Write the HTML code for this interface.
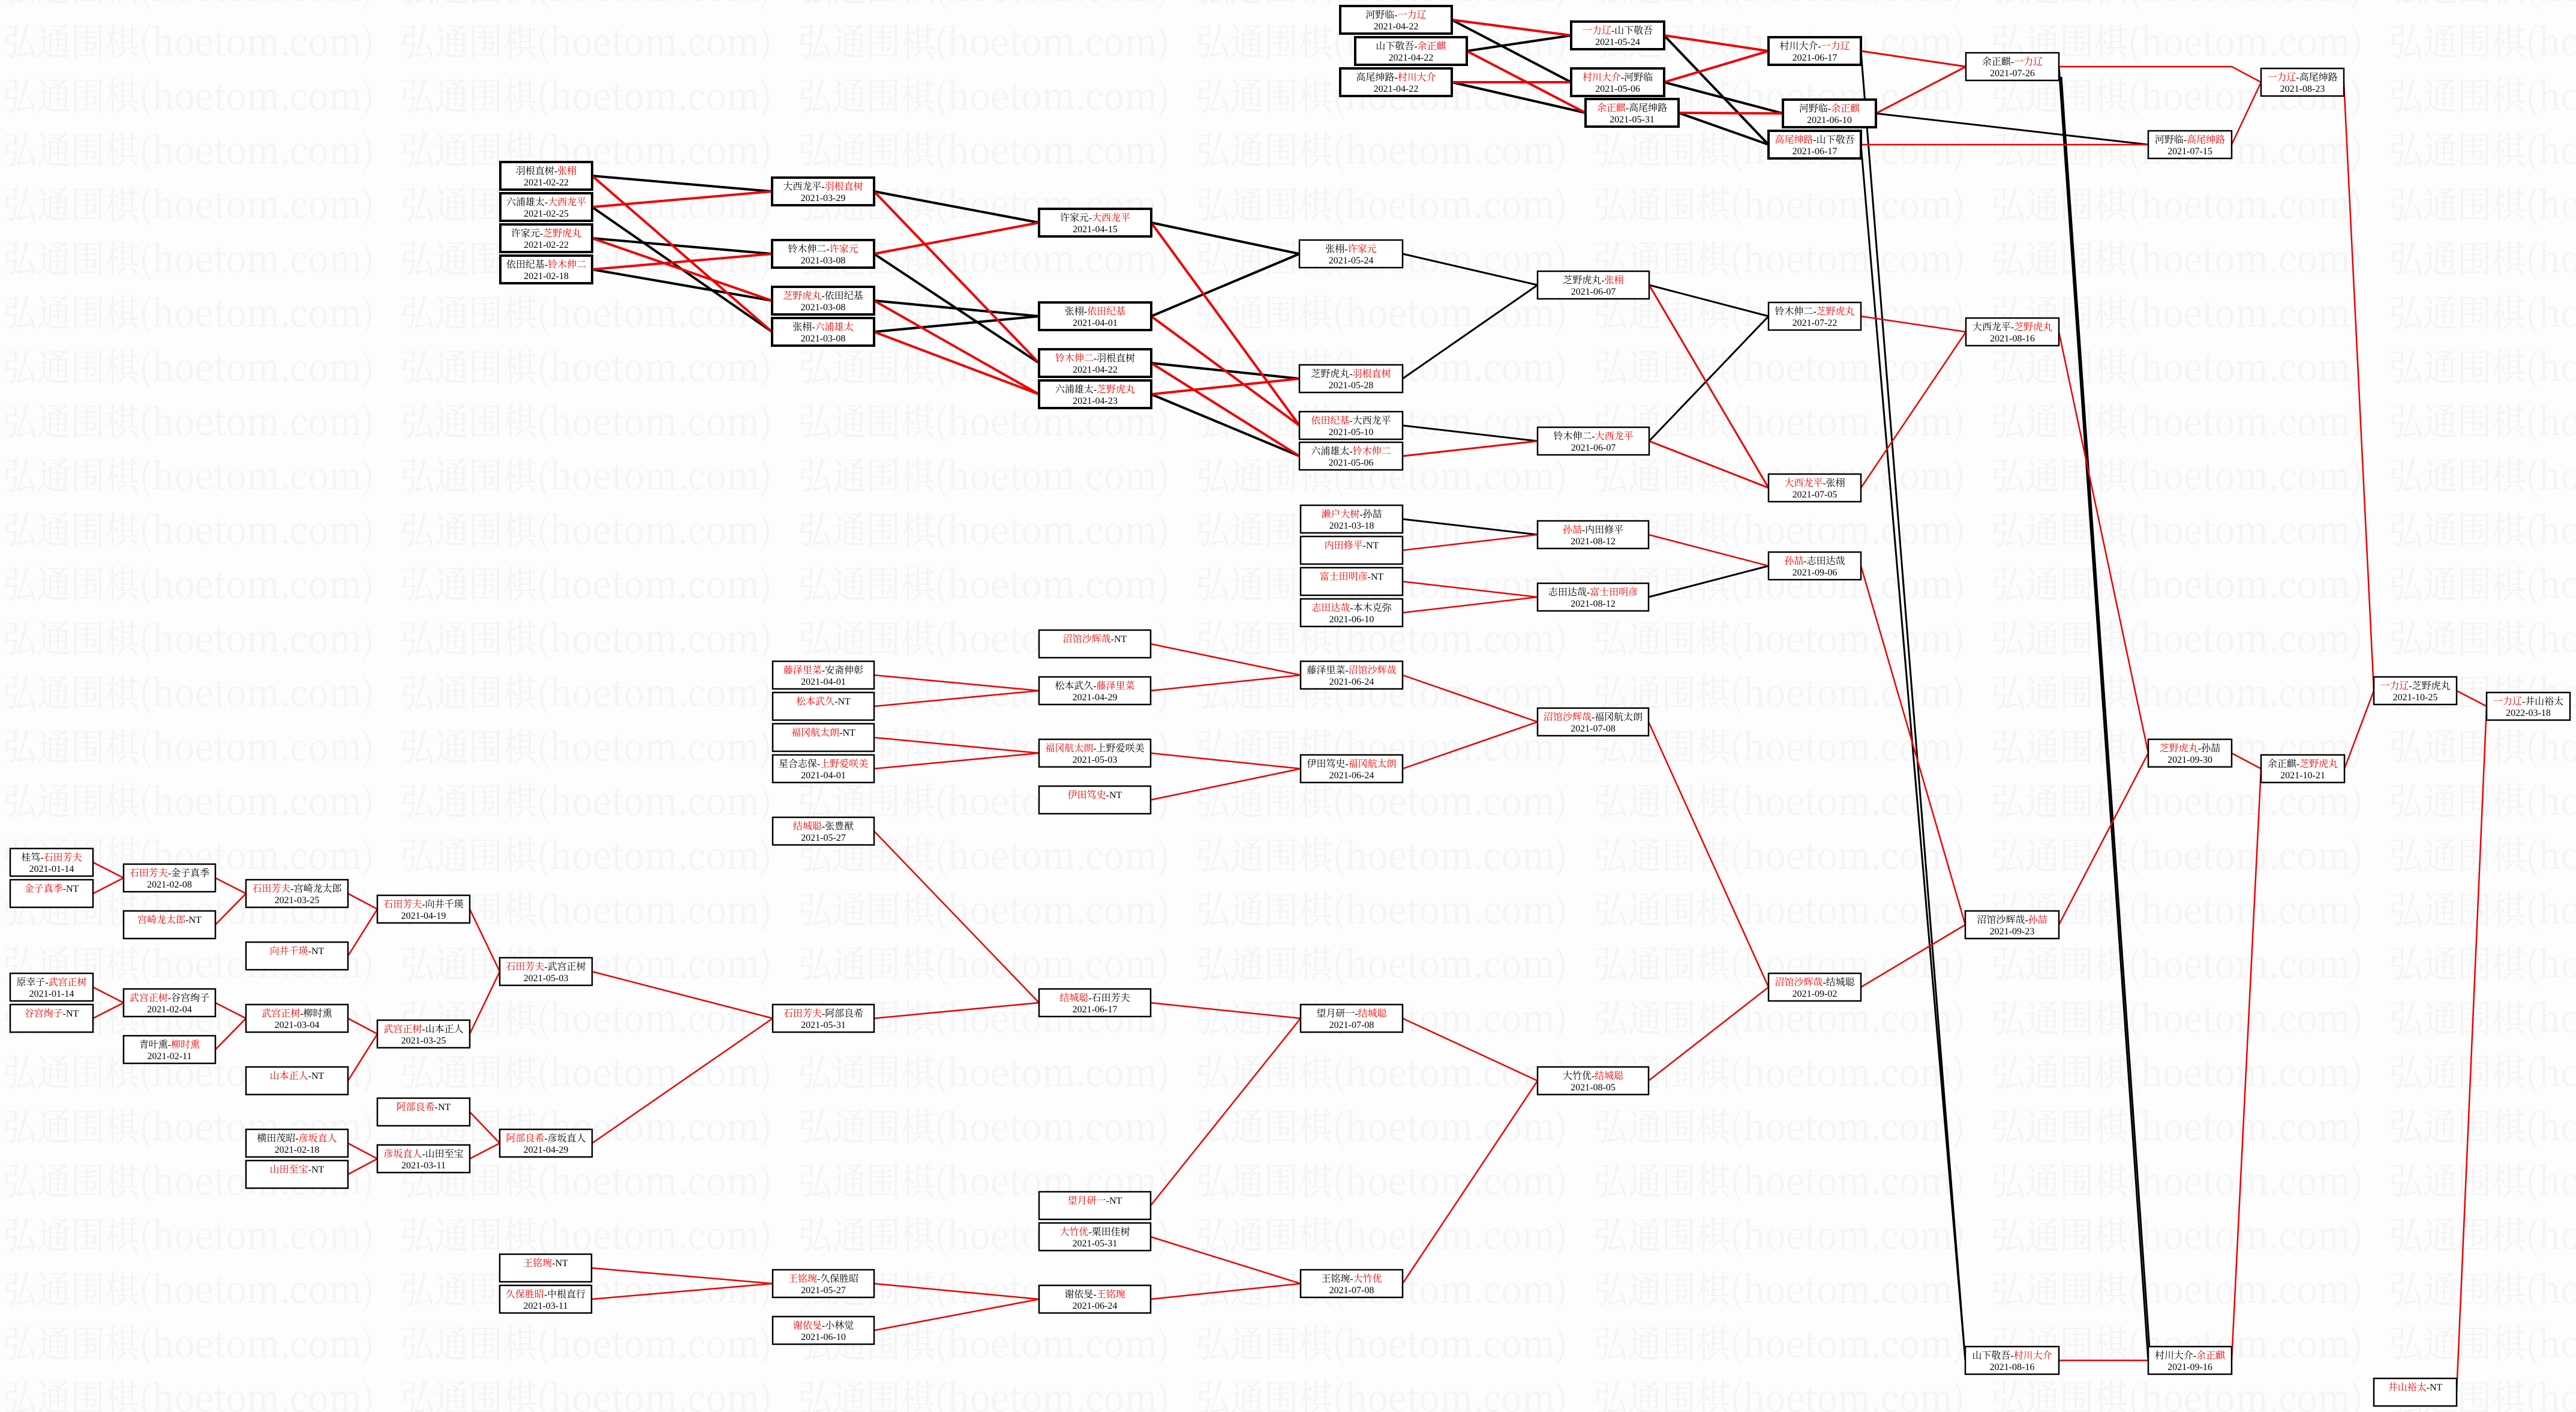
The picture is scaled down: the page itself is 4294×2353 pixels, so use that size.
<!DOCTYPE html>
<html><head><meta charset="utf-8">
<style>
html,body{margin:0;padding:0;background:#fff}
svg{display:block}
.t{font-family:"Liberation Serif","Noto Serif CJK SC",serif;font-size:16px;text-anchor:middle;fill:#000}
.r{fill:#e00}
rect.k{fill:#fff;stroke:#000;stroke-width:4}
rect.n{fill:#fff;stroke:#000;stroke-width:2.5}
.wm{font-family:"Noto Serif CJK SC",serif;font-size:62px;fill:#f4f4f4}
</style></head><body>
<svg xmlns="http://www.w3.org/2000/svg" width="4294" height="2353" viewBox="0 0 4294 2353">
<defs>
<pattern id="wm" patternUnits="userSpaceOnUse" x="0" y="20" width="663" height="90.4">
<text class="wm" x="4" y="72" textLength="620" lengthAdjust="spacingAndGlyphs">弘通围棋(hoetom.com)</text>
</pattern>
</defs>
<rect x="0" y="0" width="4294" height="2353" fill="#fdfdfd"/>
<rect x="0" y="0" width="4294" height="2353" fill="url(#wm)"/>

<g stroke-width="4" fill="none">
<path stroke="#000" d="M987,293L1287,319M987,345L1287,553M987,397L1287,423M987,449L1287,501M1457,319L1732,371M1457,423L1732,605M1457,501L1732,527M1457,553L1732,527M1919,371L2166,423M1919,527L2166,423M1919,605L2166,631M1919,657L2166,760"/>
<path stroke="#e00" d="M987,293L1287,553M987,345L1287,319M987,397L1287,501M987,449L1287,423M1457,319L1732,605M1457,423L1732,371M1457,501L1732,657M1457,553L1732,657M1919,371L2166,709M1919,527L2166,709M1919,605L2166,760M1919,657L2166,631"/>
<path stroke="#000" d="M2420,33L2619,137M2445,85L2619,59M2420,137L2643,188M2774,59L2948,241M2774,137L2972,189M2798,188L2948,241"/>
<path stroke="#e00" d="M2420,33L2619,59M2445,85L2643,188M2420,137L2619,137M2774,59L2948,85M2774,137L2948,85M2798,188L2972,189"/>
</g>
<g stroke-width="3" fill="none">
<path stroke="#000" d="M2338,423L2563,475M2338,631L2563,475M2338,709L2563,735M2749,475L2948,527M2749,735L2948,527M3102,85L3276,2267M3102,241L3276,2267M3127,189L3581,241M3432,111L3581,2267M3436,128L3584,2262M2748,995L2948,943M2338,865L2563,891"/>
<path stroke="#e00" d="M2338,760L2563,735M2749,475L2948,813M2749,735L2948,813M3102,85L3277,111M3127,189L3277,111"/>
</g>
<g stroke-width="2.5" fill="none" stroke="#e00">
<path d="M3102,527L3277,553M3102,813L3277,553M3102,241L3581,241M3432,111L3720,111L3769,137M3720,241L3769,137M3907,137L3957,1151M3432,553L3581,1255M3102,943L3276,1541M3102,1645L3276,1541M3432,1541L3581,1255M3720,1255L3769,1281M3432,2267L3581,2267M3720,2267L3769,1281M3908,1281L3957,1151M4095,1151L4145,1177M4095,2320L4145,1177"/>
<path d="M2338,917L2563,891M2338,969L2563,995M2338,1021L2563,995M2748,891L2948,943M1918,1073L2168,1125M1457,1125L1732,1151M1457,1177L1732,1151M1918,1151L2168,1125M1457,1229L1732,1255M1457,1281L1732,1255M1918,1255L2168,1281M1918,1333L2168,1281M2338,1125L2563,1203M2338,1281L2563,1203M2748,1203L2948,1645M1457,1385L1732,1671M1457,1697L1732,1671M1918,1671L2168,1697M1918,2009L2168,1697M2338,1697L2563,1801M1918,2061L2168,2139M1918,2165L2168,2139M2338,2139L2563,1801M2748,1801L2948,1645M986,2113L1288,2139M986,2165L1288,2139M1457,2139L1732,2165M1457,2217L1732,2165"/>
<path d="M155,1437L206,1463M155,1489L206,1463M359,1463L410,1489M359,1541L410,1489M580,1489L629,1515M580,1593L629,1515M783,1515L833,1619M155,1645L206,1671M155,1697L206,1671M359,1671L410,1697M359,1749L410,1697M580,1697L629,1723M580,1801L629,1723M783,1723L833,1619M987,1619L1288,1697M783,1853L833,1905M580,1905L629,1931M580,1957L629,1931M783,1931L833,1905M987,1905L1288,1697"/>
</g>

<g>
<rect class="k" x="834" y="270" width="153" height="46"/><text class="t" x="910.5" y="290">羽根直树-<tspan class="r">张栩</tspan></text><text class="t" x="910.5" y="309">2021-02-22</text>
<rect class="k" x="834" y="322" width="153" height="46"/><text class="t" x="910.5" y="342">六浦雄太-<tspan class="r">大西龙平</tspan></text><text class="t" x="910.5" y="361">2021-02-25</text>
<rect class="k" x="834" y="374" width="153" height="46"/><text class="t" x="910.5" y="394">许家元-<tspan class="r">芝野虎丸</tspan></text><text class="t" x="910.5" y="413">2021-02-22</text>
<rect class="k" x="834" y="426" width="153" height="46"/><text class="t" x="910.5" y="446">依田纪基-<tspan class="r">铃木伸二</tspan></text><text class="t" x="910.5" y="465">2021-02-18</text>
<rect class="k" x="1287" y="296" width="170" height="46"/><text class="t" x="1372" y="316">大西龙平-<tspan class="r">羽根直树</tspan></text><text class="t" x="1372" y="335">2021-03-29</text>
<rect class="k" x="1287" y="400" width="170" height="46"/><text class="t" x="1372" y="420">铃木伸二-<tspan class="r">许家元</tspan></text><text class="t" x="1372" y="439">2021-03-08</text>
<rect class="k" x="1287" y="478" width="170" height="46"/><text class="t" x="1372" y="498"><tspan class="r">芝野虎丸</tspan>-依田纪基</text><text class="t" x="1372" y="517">2021-03-08</text>
<rect class="k" x="1287" y="530" width="170" height="46"/><text class="t" x="1372" y="550">张栩-<tspan class="r">六浦雄太</tspan></text><text class="t" x="1372" y="569">2021-03-08</text>
<rect class="k" x="1732" y="348" width="187" height="46"/><text class="t" x="1825.5" y="368">许家元-<tspan class="r">大西龙平</tspan></text><text class="t" x="1825.5" y="387">2021-04-15</text>
<rect class="k" x="1732" y="504" width="187" height="46"/><text class="t" x="1825.5" y="524">张栩-<tspan class="r">依田纪基</tspan></text><text class="t" x="1825.5" y="543">2021-04-01</text>
<rect class="k" x="1732" y="582" width="187" height="46"/><text class="t" x="1825.5" y="602"><tspan class="r">铃木伸二</tspan>-羽根直树</text><text class="t" x="1825.5" y="621">2021-04-22</text>
<rect class="k" x="1732" y="634" width="187" height="46"/><text class="t" x="1825.5" y="654">六浦雄太-<tspan class="r">芝野虎丸</tspan></text><text class="t" x="1825.5" y="673">2021-04-23</text>
<rect class="k" x="2234" y="10" width="186" height="46"/><text class="t" x="2327" y="30">河野临-<tspan class="r">一力辽</tspan></text><text class="t" x="2327" y="49">2021-04-22</text>
<rect class="k" x="2259" y="62" width="186" height="46"/><text class="t" x="2352" y="82">山下敬吾-<tspan class="r">余正麒</tspan></text><text class="t" x="2352" y="101">2021-04-22</text>
<rect class="k" x="2234" y="114" width="186" height="46"/><text class="t" x="2327" y="134">高尾绅路-<tspan class="r">村川大介</tspan></text><text class="t" x="2327" y="153">2021-04-22</text>
<rect class="k" x="2619" y="36" width="155" height="46"/><text class="t" x="2696.5" y="56"><tspan class="r">一力辽</tspan>-山下敬吾</text><text class="t" x="2696.5" y="75">2021-05-24</text>
<rect class="k" x="2619" y="114" width="155" height="46"/><text class="t" x="2696.5" y="134"><tspan class="r">村川大介</tspan>-河野临</text><text class="t" x="2696.5" y="153">2021-05-06</text>
<rect class="k" x="2643" y="165" width="155" height="46"/><text class="t" x="2720.5" y="185"><tspan class="r">余正麒</tspan>-高尾绅路</text><text class="t" x="2720.5" y="204">2021-05-31</text>
</g>

<g>
<rect class="n" x="2166" y="400" width="172" height="46"/><text class="t" x="2252" y="420">张栩-<tspan class="r">许家元</tspan></text><text class="t" x="2252" y="439">2021-05-24</text>
<rect class="n" x="2166" y="608" width="172" height="46"/><text class="t" x="2252" y="628">芝野虎丸-<tspan class="r">羽根直树</tspan></text><text class="t" x="2252" y="647">2021-05-28</text>
<rect class="n" x="2166" y="686" width="172" height="46"/><text class="t" x="2252" y="706"><tspan class="r">依田纪基</tspan>-大西龙平</text><text class="t" x="2252" y="725">2021-05-10</text>
<rect class="n" x="2166" y="737" width="172" height="46"/><text class="t" x="2252" y="757">六浦雄太-<tspan class="r">铃木伸二</tspan></text><text class="t" x="2252" y="776">2021-05-06</text>
<rect class="n" x="2563" y="452" width="186" height="46"/><text class="t" x="2656" y="472">芝野虎丸-<tspan class="r">张栩</tspan></text><text class="t" x="2656" y="491">2021-06-07</text>
<rect class="n" x="2563" y="712" width="186" height="46"/><text class="t" x="2656" y="732">铃木伸二-<tspan class="r">大西龙平</tspan></text><text class="t" x="2656" y="751">2021-06-07</text>
<rect class="n" x="2948" y="504" width="154" height="46"/><text class="t" x="3025" y="524">铃木伸二-<tspan class="r">芝野虎丸</tspan></text><text class="t" x="3025" y="543">2021-07-22</text>
<rect class="n" x="2948" y="790" width="154" height="46"/><text class="t" x="3025" y="810"><tspan class="r">大西龙平</tspan>-张栩</text><text class="t" x="3025" y="829">2021-07-05</text>
<rect class="k" x="2948" y="62" width="154" height="46"/><text class="t" x="3025" y="82">村川大介-<tspan class="r">一力辽</tspan></text><text class="t" x="3025" y="101">2021-06-17</text>
<rect class="k" x="2972" y="166" width="155" height="46"/><text class="t" x="3049.5" y="186">河野临-<tspan class="r">余正麒</tspan></text><text class="t" x="3049.5" y="205">2021-06-10</text>
<rect class="k" x="2948" y="218" width="154" height="46"/><text class="t" x="3025" y="238"><tspan class="r">高尾绅路</tspan>-山下敬吾</text><text class="t" x="3025" y="257">2021-06-17</text>
<rect class="n" x="3277" y="88" width="155" height="46"/><text class="t" x="3354.5" y="108">余正麒-<tspan class="r">一力辽</tspan></text><text class="t" x="3354.5" y="127">2021-07-26</text>
<rect class="n" x="3769" y="114" width="138" height="46"/><text class="t" x="3838" y="134"><tspan class="r">一力辽</tspan>-高尾绅路</text><text class="t" x="3838" y="153">2021-08-23</text>
<rect class="n" x="3581" y="218" width="139" height="46"/><text class="t" x="3650.5" y="238">河野临-<tspan class="r">高尾绅路</tspan></text><text class="t" x="3650.5" y="257">2021-07-15</text>
<rect class="n" x="3277" y="530" width="155" height="46"/><text class="t" x="3354.5" y="550">大西龙平-<tspan class="r">芝野虎丸</tspan></text><text class="t" x="3354.5" y="569">2021-08-16</text>
<rect class="n" x="3581" y="1232" width="139" height="46"/><text class="t" x="3650.5" y="1252"><tspan class="r">芝野虎丸</tspan>-孙喆</text><text class="t" x="3650.5" y="1271">2021-09-30</text>
<rect class="n" x="3769" y="1258" width="139" height="46"/><text class="t" x="3838.5" y="1278">余正麒-<tspan class="r">芝野虎丸</tspan></text><text class="t" x="3838.5" y="1297">2021-10-21</text>
<rect class="n" x="3957" y="1128" width="138" height="46"/><text class="t" x="4026" y="1148"><tspan class="r">一力辽</tspan>-芝野虎丸</text><text class="t" x="4026" y="1167">2021-10-25</text>
<rect class="n" x="4145" y="1154" width="139" height="46"/><text class="t" x="4214.5" y="1174"><tspan class="r">一力辽</tspan>-井山裕太</text><text class="t" x="4214.5" y="1193">2022-03-18</text>
<rect class="n" x="3957" y="2297" width="138" height="46"/><text class="t" x="4026" y="2317"><tspan class="r">井山裕太</tspan>-NT</text>
<rect class="n" x="3276" y="1518" width="156" height="46"/><text class="t" x="3354" y="1538">沼馆沙辉哉-<tspan class="r">孙喆</tspan></text><text class="t" x="3354" y="1557">2021-09-23</text>
<rect class="n" x="3276" y="2244" width="156" height="46"/><text class="t" x="3354" y="2264">山下敬吾-<tspan class="r">村川大介</tspan></text><text class="t" x="3354" y="2283">2021-08-16</text>
<rect class="n" x="3581" y="2244" width="139" height="46"/><text class="t" x="3650.5" y="2264">村川大介-<tspan class="r">余正麒</tspan></text><text class="t" x="3650.5" y="2283">2021-09-16</text>
<rect class="n" x="2948" y="920" width="154" height="46"/><text class="t" x="3025" y="940"><tspan class="r">孙喆</tspan>-志田达哉</text><text class="t" x="3025" y="959">2021-09-06</text>
<rect class="n" x="2948" y="1622" width="154" height="46"/><text class="t" x="3025" y="1642"><tspan class="r">沼馆沙辉哉</tspan>-结城聪</text><text class="t" x="3025" y="1661">2021-09-02</text>

<rect class="n" x="2168" y="842" width="170" height="46"/><text class="t" x="2253" y="862"><tspan class="r">濑户大树</tspan>-孙喆</text><text class="t" x="2253" y="881">2021-03-18</text>
<rect class="n" x="2168" y="894" width="170" height="46"/><text class="t" x="2253" y="914"><tspan class="r">内田修平</tspan>-NT</text>
<rect class="n" x="2168" y="946" width="170" height="46"/><text class="t" x="2253" y="966"><tspan class="r">富士田明彦</tspan>-NT</text>
<rect class="n" x="2168" y="998" width="170" height="46"/><text class="t" x="2253" y="1018"><tspan class="r">志田达哉</tspan>-本木克弥</text><text class="t" x="2253" y="1037">2021-06-10</text>
<rect class="n" x="2563" y="868" width="185" height="46"/><text class="t" x="2655.5" y="888"><tspan class="r">孙喆</tspan>-内田修平</text><text class="t" x="2655.5" y="907">2021-08-12</text>
<rect class="n" x="2563" y="972" width="185" height="46"/><text class="t" x="2655.5" y="992">志田达哉-<tspan class="r">富士田明彦</tspan></text><text class="t" x="2655.5" y="1011">2021-08-12</text>

<rect class="n" x="1732" y="1050" width="186" height="46"/><text class="t" x="1825" y="1070"><tspan class="r">沼馆沙辉哉</tspan>-NT</text>
<rect class="n" x="1288" y="1102" width="169" height="46"/><text class="t" x="1372.5" y="1122"><tspan class="r">藤泽里菜</tspan>-安斋伸彰</text><text class="t" x="1372.5" y="1141">2021-04-01</text>
<rect class="n" x="1288" y="1154" width="169" height="46"/><text class="t" x="1372.5" y="1174"><tspan class="r">松本武久</tspan>-NT</text>
<rect class="n" x="1288" y="1206" width="169" height="46"/><text class="t" x="1372.5" y="1226"><tspan class="r">福冈航太朗</tspan>-NT</text>
<rect class="n" x="1288" y="1258" width="169" height="46"/><text class="t" x="1372.5" y="1278">星合志保-<tspan class="r">上野爱咲美</tspan></text><text class="t" x="1372.5" y="1297">2021-04-01</text>
<rect class="n" x="1732" y="1128" width="186" height="46"/><text class="t" x="1825" y="1148">松本武久-<tspan class="r">藤泽里菜</tspan></text><text class="t" x="1825" y="1167">2021-04-29</text>
<rect class="n" x="1732" y="1232" width="186" height="46"/><text class="t" x="1825" y="1252"><tspan class="r">福冈航太朗</tspan>-上野爱咲美</text><text class="t" x="1825" y="1271">2021-05-03</text>
<rect class="n" x="1732" y="1310" width="186" height="46"/><text class="t" x="1825" y="1330"><tspan class="r">伊田笃史</tspan>-NT</text>
<rect class="n" x="2168" y="1102" width="170" height="46"/><text class="t" x="2253" y="1122">藤泽里菜-<tspan class="r">沼馆沙辉哉</tspan></text><text class="t" x="2253" y="1141">2021-06-24</text>
<rect class="n" x="2168" y="1258" width="170" height="46"/><text class="t" x="2253" y="1278">伊田笃史-<tspan class="r">福冈航太朗</tspan></text><text class="t" x="2253" y="1297">2021-06-24</text>
<rect class="n" x="2563" y="1180" width="185" height="46"/><text class="t" x="2655.5" y="1200"><tspan class="r">沼馆沙辉哉</tspan>-福冈航太朗</text><text class="t" x="2655.5" y="1219">2021-07-08</text>

<rect class="n" x="1288" y="1362" width="169" height="46"/><text class="t" x="1372.5" y="1382"><tspan class="r">结城聪</tspan>-张豊猷</text><text class="t" x="1372.5" y="1401">2021-05-27</text>
<rect class="n" x="1732" y="1648" width="186" height="46"/><text class="t" x="1825" y="1668"><tspan class="r">结城聪</tspan>-石田芳夫</text><text class="t" x="1825" y="1687">2021-06-17</text>
<rect class="n" x="1288" y="1674" width="169" height="46"/><text class="t" x="1372.5" y="1694"><tspan class="r">石田芳夫</tspan>-阿部良希</text><text class="t" x="1372.5" y="1713">2021-05-31</text>
<rect class="n" x="2168" y="1674" width="170" height="46"/><text class="t" x="2253" y="1694">望月研一-<tspan class="r">结城聪</tspan></text><text class="t" x="2253" y="1713">2021-07-08</text>
<rect class="n" x="2563" y="1778" width="185" height="46"/><text class="t" x="2655.5" y="1798">大竹优-<tspan class="r">结城聪</tspan></text><text class="t" x="2655.5" y="1817">2021-08-05</text>
<rect class="n" x="1732" y="1986" width="186" height="46"/><text class="t" x="1825" y="2006"><tspan class="r">望月研一</tspan>-NT</text>
<rect class="n" x="1732" y="2038" width="186" height="46"/><text class="t" x="1825" y="2058"><tspan class="r">大竹优</tspan>-栗田佳树</text><text class="t" x="1825" y="2077">2021-05-31</text>
<rect class="n" x="1732" y="2142" width="186" height="46"/><text class="t" x="1825" y="2162">谢依旻-<tspan class="r">王铭琬</tspan></text><text class="t" x="1825" y="2181">2021-06-24</text>
<rect class="n" x="2168" y="2116" width="170" height="46"/><text class="t" x="2253" y="2136">王铭琬-<tspan class="r">大竹优</tspan></text><text class="t" x="2253" y="2155">2021-07-08</text>
<rect class="n" x="833" y="2090" width="153" height="46"/><text class="t" x="909.5" y="2110"><tspan class="r">王铭琬</tspan>-NT</text>
<rect class="n" x="833" y="2142" width="153" height="46"/><text class="t" x="909.5" y="2162"><tspan class="r">久保胜昭</tspan>-中根直行</text><text class="t" x="909.5" y="2181">2021-03-11</text>
<rect class="n" x="1288" y="2116" width="169" height="46"/><text class="t" x="1372.5" y="2136"><tspan class="r">王铭琬</tspan>-久保胜昭</text><text class="t" x="1372.5" y="2155">2021-05-27</text>
<rect class="n" x="1288" y="2194" width="169" height="46"/><text class="t" x="1372.5" y="2214"><tspan class="r">谢依旻</tspan>-小林觉</text><text class="t" x="1372.5" y="2233">2021-06-10</text>

<rect class="n" x="17" y="1414" width="138" height="46"/><text class="t" x="86" y="1434">桂笃-<tspan class="r">石田芳夫</tspan></text><text class="t" x="86" y="1453">2021-01-14</text>
<rect class="n" x="17" y="1466" width="138" height="46"/><text class="t" x="86" y="1486"><tspan class="r">金子真季</tspan>-NT</text>
<rect class="n" x="206" y="1440" width="153" height="46"/><text class="t" x="282.5" y="1460"><tspan class="r">石田芳夫</tspan>-金子真季</text><text class="t" x="282.5" y="1479">2021-02-08</text>
<rect class="n" x="206" y="1518" width="153" height="46"/><text class="t" x="282.5" y="1538"><tspan class="r">宫崎龙太郎</tspan>-NT</text>
<rect class="n" x="410" y="1466" width="170" height="46"/><text class="t" x="495" y="1486"><tspan class="r">石田芳夫</tspan>-宫崎龙太郎</text><text class="t" x="495" y="1505">2021-03-25</text>
<rect class="n" x="410" y="1570" width="170" height="46"/><text class="t" x="495" y="1590"><tspan class="r">向井千瑛</tspan>-NT</text>
<rect class="n" x="629" y="1492" width="154" height="46"/><text class="t" x="706" y="1512"><tspan class="r">石田芳夫</tspan>-向井千瑛</text><text class="t" x="706" y="1531">2021-04-19</text>
<rect class="n" x="17" y="1622" width="138" height="46"/><text class="t" x="86" y="1642">原幸子-<tspan class="r">武宫正树</tspan></text><text class="t" x="86" y="1661">2021-01-14</text>
<rect class="n" x="17" y="1674" width="138" height="46"/><text class="t" x="86" y="1694"><tspan class="r">谷宫绚子</tspan>-NT</text>
<rect class="n" x="206" y="1648" width="153" height="46"/><text class="t" x="282.5" y="1668"><tspan class="r">武宫正树</tspan>-谷宫绚子</text><text class="t" x="282.5" y="1687">2021-02-04</text>
<rect class="n" x="206" y="1726" width="153" height="46"/><text class="t" x="282.5" y="1746">青叶熏-<tspan class="r">柳时熏</tspan></text><text class="t" x="282.5" y="1765">2021-02-11</text>
<rect class="n" x="410" y="1674" width="170" height="46"/><text class="t" x="495" y="1694"><tspan class="r">武宫正树</tspan>-柳时熏</text><text class="t" x="495" y="1713">2021-03-04</text>
<rect class="n" x="410" y="1778" width="170" height="46"/><text class="t" x="495" y="1798"><tspan class="r">山本正人</tspan>-NT</text>
<rect class="n" x="629" y="1700" width="154" height="46"/><text class="t" x="706" y="1720"><tspan class="r">武宫正树</tspan>-山本正人</text><text class="t" x="706" y="1739">2021-03-25</text>
<rect class="n" x="833" y="1596" width="154" height="46"/><text class="t" x="910" y="1616"><tspan class="r">石田芳夫</tspan>-武宫正树</text><text class="t" x="910" y="1635">2021-05-03</text>
<rect class="n" x="629" y="1830" width="154" height="46"/><text class="t" x="706" y="1850"><tspan class="r">阿部良希</tspan>-NT</text>
<rect class="n" x="410" y="1882" width="170" height="46"/><text class="t" x="495" y="1902">横田茂昭-<tspan class="r">彦坂直人</tspan></text><text class="t" x="495" y="1921">2021-02-18</text>
<rect class="n" x="410" y="1934" width="170" height="46"/><text class="t" x="495" y="1954"><tspan class="r">山田至宝</tspan>-NT</text>
<rect class="n" x="629" y="1908" width="154" height="46"/><text class="t" x="706" y="1928"><tspan class="r">彦坂直人</tspan>-山田至宝</text><text class="t" x="706" y="1947">2021-03-11</text>
<rect class="n" x="833" y="1882" width="154" height="46"/><text class="t" x="910" y="1902"><tspan class="r">阿部良希</tspan>-彦坂直人</text><text class="t" x="910" y="1921">2021-04-29</text>
</g>
</svg>
</body></html>
